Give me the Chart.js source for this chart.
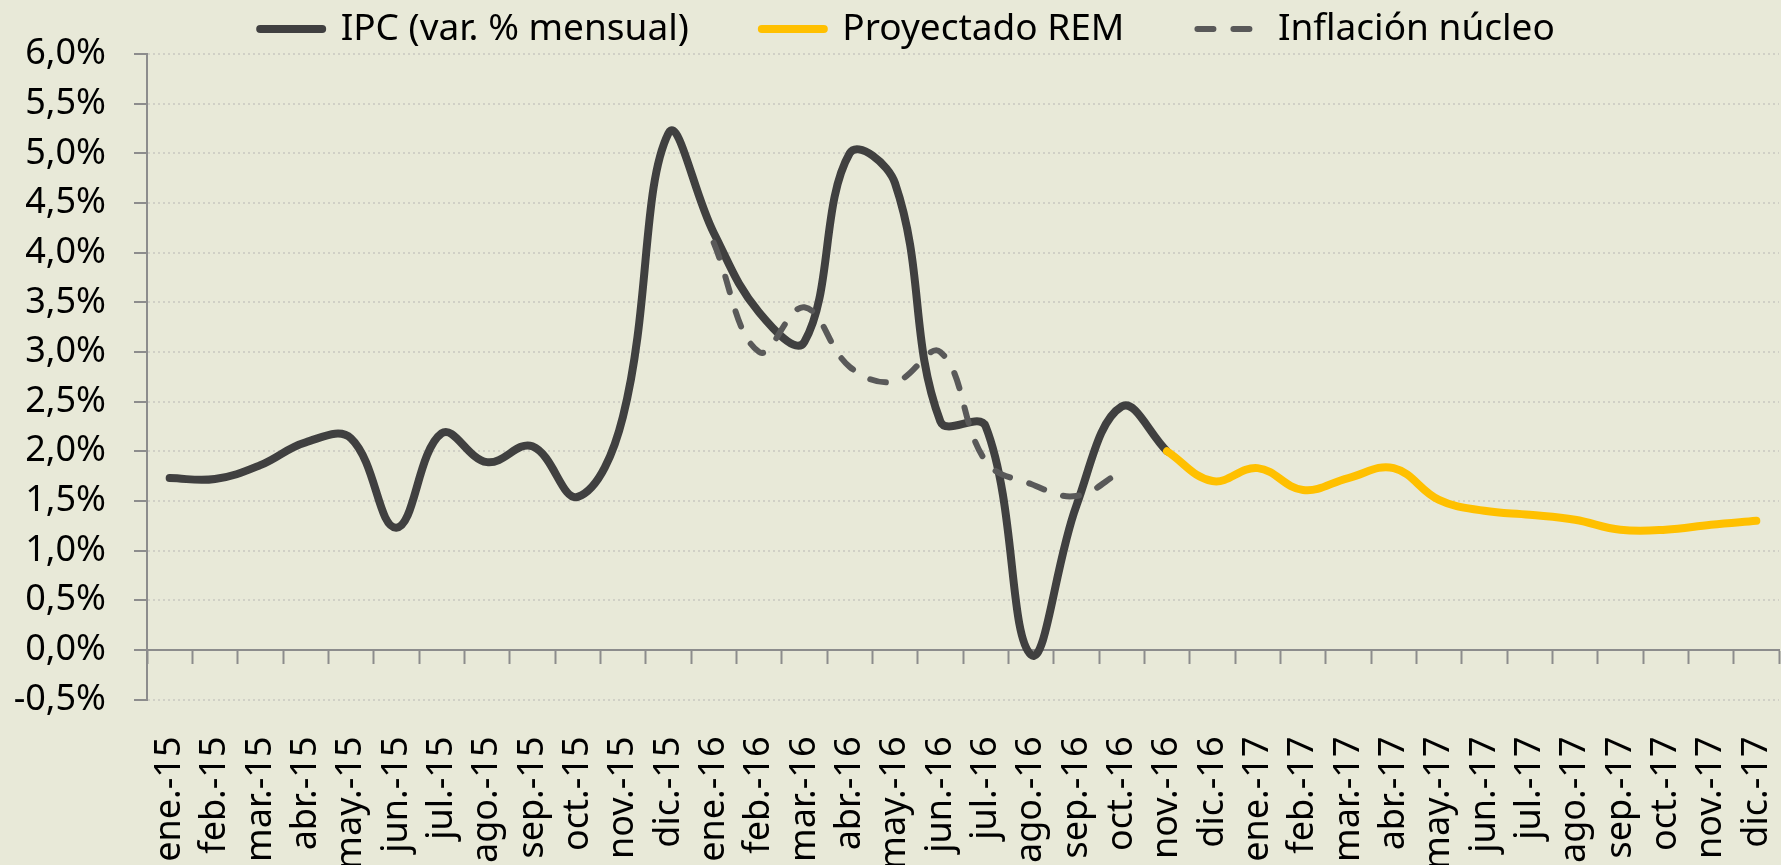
<!DOCTYPE html>
<html>
<head>
<meta charset="utf-8">
<script src="https://cdn.jsdelivr.net/npm/chart.js@4.4.1/dist/chart.umd.min.js"></script>
<style>
  html, body { margin: 0; padding: 0; background: #e8e9d8; }
  #wrap { width: 1781px; height: 865px; position: relative; }
  canvas { display: block; }
</style>
</head>
<body>
<div id="wrap"><canvas id="c" width="1781" height="865"></canvas></div>
<script>
// ---- data ----
const categories = [
  'ene.-15','feb.-15','mar.-15','abr.-15','may.-15','jun.-15','jul.-15','ago.-15','sep.-15','oct.-15','nov.-15','dic.-15',
  'ene.-16','feb.-16','mar.-16','abr.-16','may.-16','jun.-16','jul.-16','ago.-16','sep.-16','oct.-16','nov.-16','dic.-16',
  'ene.-17','feb.-17','mar.-17','abr.-17','may.-17','jun.-17','jul.-17','ago.-17','sep.-17','oct.-17','nov.-17','dic.-17'
];
const ipcMensual = [
  1.73, 1.72, 1.86, 2.09, 2.13, 1.23, 2.18, 1.89, 2.05, 1.54, 2.35, 5.20,
  4.20, 3.40, 3.10, 5.00, 4.70, 2.30, 2.25, -0.05, 1.45, 2.45, 2.00, null,
  null, null, null, null, null, null, null, null, null, null, null, null
];
const proyectadoREM = [
  null, null, null, null, null, null, null, null, null, null, null, null,
  null, null, null, null, null, null, null, null, null, null, 2.00, 1.70,
  1.83, 1.61, 1.73, 1.83, 1.51, 1.40, 1.36, 1.31, 1.21, 1.21, 1.26, 1.30
];
const inflacionNucleo = [
  null, null, null, null, null, null, null, null, null, null, null, null,
  4.10, 3.00, 3.45, 2.85, 2.70, 3.00, 1.90, 1.67, 1.55, 1.80, null, null,
  null, null, null, null, null, null, null, null, null, null, null, null
];
const seriesNames = ['IPC (var. % mensual)', 'Proyectado REM', 'Inflación núcleo'];
const yMin = -0.5, yMax = 6.0, yStep = 0.5;
const formatPct = v => v.toFixed(1).replace('.', ',') + '%';

// ---- styling ----
const FONT = "'Noto Sans', 'DejaVu Sans', sans-serif";
const AXIS_GRAY = '#8c8c8c';

const layoutTweaks = {
  id: 'layoutTweaks',
  beforeInit(chart) {
    const orig = chart.legend.fit;
    chart.legend.fit = function () { orig.call(this); this.height = 116.5; };
  },
  afterLayout(chart) {
    // let the y tick labels use the space to the left of the axis box
    chart.scales.y.left = 0;
  }
};

new Chart(document.getElementById('c'), {
  type: 'line',
  data: {
    labels: categories,
    datasets: [
      { label: seriesNames[0], data: ipcMensual, xAxisID: 'x', yAxisID: 'y',
        borderColor: '#404040', backgroundColor: '#404040', borderWidth: 8,
        borderCapStyle: 'round', borderJoinStyle: 'round', pointRadius: 0, tension: 0.4, order: 3 },
      { label: seriesNames[1], data: proyectadoREM, xAxisID: 'x', yAxisID: 'y',
        borderColor: '#FFC000', backgroundColor: '#FFC000', borderWidth: 8,
        borderCapStyle: 'round', borderJoinStyle: 'round', pointRadius: 0, tension: 0.4, order: 2 },
      { label: seriesNames[2], data: inflacionNucleo, xAxisID: 'x', yAxisID: 'y',
        borderColor: '#595959', backgroundColor: '#595959', borderWidth: 6, borderDash: [16, 20],
        borderCapStyle: 'round', borderJoinStyle: 'round', pointRadius: 0, tension: 0.4, order: 1 }
    ]
  },
  options: {
    responsive: false,
    animation: false,
    devicePixelRatio: 1,
    spanGaps: false,
    layout: { padding: { left: 36, right: 2, top: -62.5, bottom: 0 } },
    plugins: {
      tooltip: { enabled: false },
      legend: {
        display: true,
        position: 'top',
        labels: {
          usePointStyle: true,
          pointStyle: 'line',
          pointStyleWidth: 62,
          padding: 73,
          color: '#000',
          font: { family: FONT, size: 37 },
          sort: (a, b) => a.datasetIndex - b.datasetIndex,
          generateLabels(chart) {
            const items = Chart.defaults.plugins.legend.labels.generateLabels(chart);
            return items.map(item => {
              const ds = chart.data.datasets[item.datasetIndex];
              item.lineDash = ds.borderDash || [];
              item.lineCap = 'round';
              item.lineWidth = ds.borderWidth;
              item.strokeStyle = ds.borderColor;
              item.fillStyle = ds.borderColor;
              return item;
            });
          }
        }
      }
    },
    scales: {
      x: {
        type: 'category',
        axis: 'x',
        offset: true,
        position: { y: 0 },
        grid: { display: true, drawOnChartArea: false, drawTicks: true, offset: true,
                tickLength: 13, tickWidth: 2, tickColor: AXIS_GRAY },
        border: { display: true, color: AXIS_GRAY, width: 2 },
        ticks: { display: false }
      },
      xLabels: {
        type: 'category',
        axis: 'x',
        labels: categories,
        offset: true,
        position: 'bottom',
        grid: { display: false },
        border: { display: false },
        ticks: { autoSkip: false, maxRotation: 90, minRotation: 90, padding: 29,
                 color: '#000', font: { family: FONT, size: 36 } },
        afterFit(s) { s.height = 165.5; s.paddingLeft = 0; s.paddingRight = 0; }
      },
      y: {
        type: 'linear',
        min: yMin, max: yMax,
        position: 'left',
        ticks: { stepSize: yStep, padding: 28, color: '#000', font: { family: FONT, size: 36 },
                 callback: v => formatPct(v) },
        grid: { color: '#d0d0c6', lineWidth: 2, drawTicks: true, tickLength: 13,
                tickWidth: 2, tickColor: AXIS_GRAY },
        border: { display: true, color: AXIS_GRAY, width: 2, dash: [2, 3] },
        afterFit(s) { s.width = 111; }
      }
    }
  },
  plugins: [layoutTweaks]
});
</script>
</body>
</html>
